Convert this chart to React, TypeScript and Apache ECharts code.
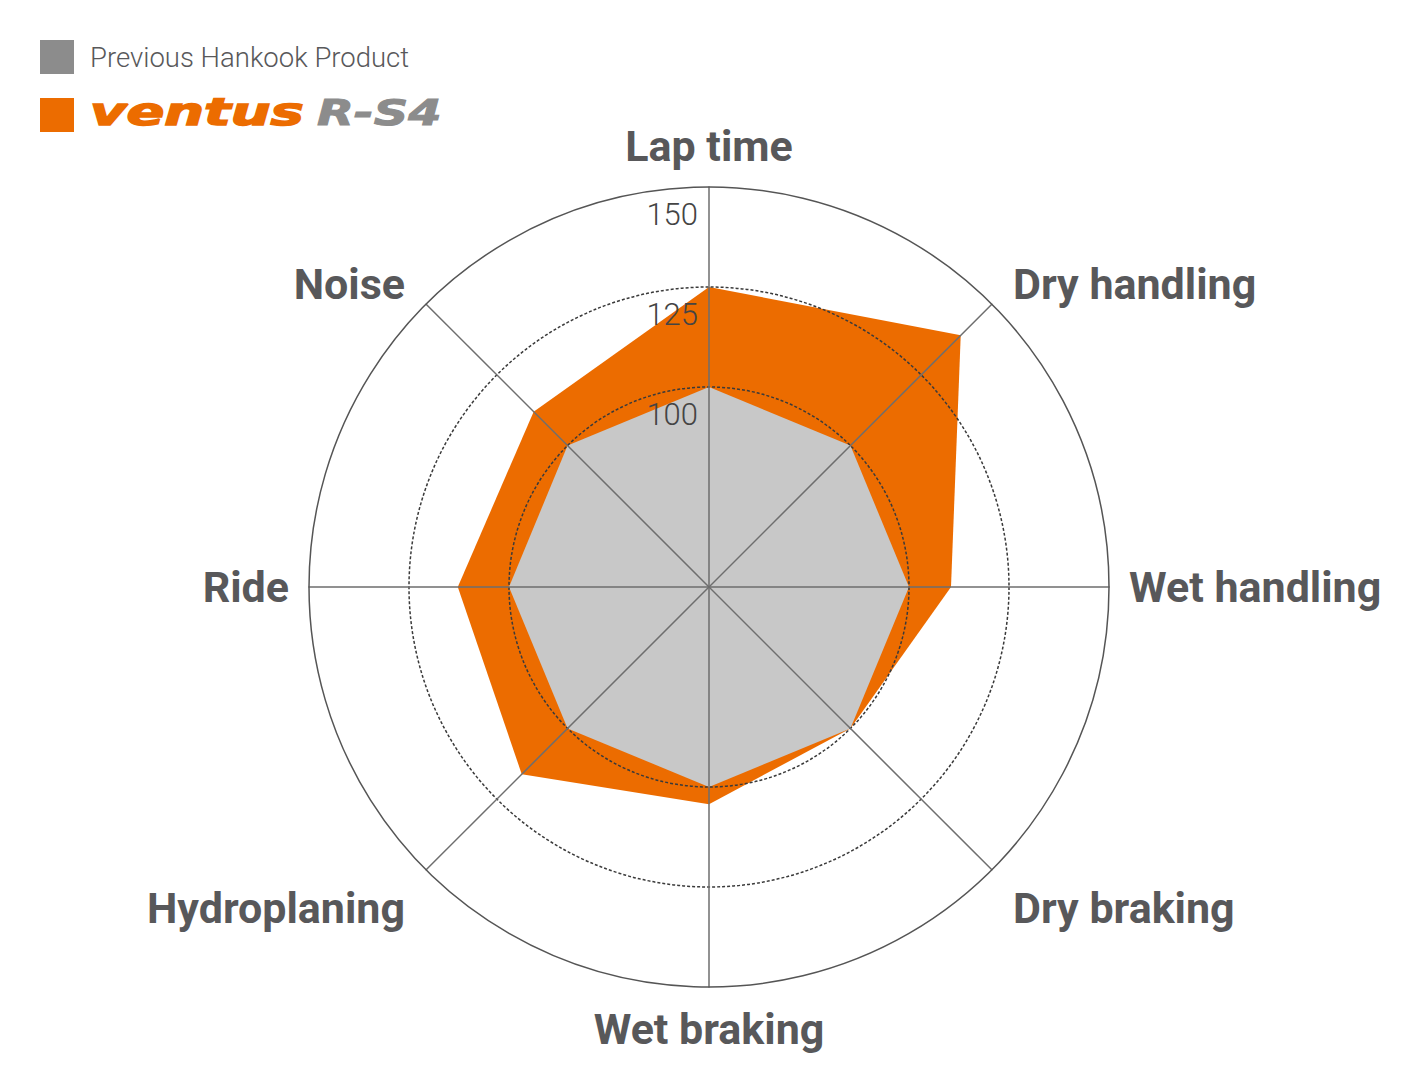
import React, { useEffect, useRef } from 'react';
import * as echarts from 'echarts';

// categories in clockwise order, starting at the top
const categories = ['Lap time', 'Dry handling', 'Wet handling', 'Dry braking', 'Wet braking', 'Hydroplaning', 'Ride', 'Noise'];
const previousProduct = [100, 100, 100, 100, 100, 100, 100, 100];
const ventusRS4 = [125, 139, 110.5, 100, 104.3, 116.2, 112.8, 112];
const tickLabels = [100, 125, 150];

const ORANGE = '#ec6c00';
const GRAY_FILL = '#c8c8c8';
const GRAY_KEY = '#8c8c8c';
const TEXT = '#58585a';

// nudges for the names that sit on the diagonals
const namePadding: Record<string, number[]> = {
  'Lap time': [0, 0, 0, 0],
  'Dry handling': [0, 0, 12, 7],
  'Wet handling': [0, 0, 0, 0],
  'Dry braking': [48, 0, 0, 7],
  'Wet braking': [0, 0, 0, 0],
  Hydroplaning: [48, 7, 0, 0],
  Ride: [0, 0, 0, 0],
  Noise: [0, 7, 12, 0],
};

const App: React.FC = () => {
  const chartRef = useRef<HTMLDivElement>(null);

  useEffect(() => {
    document.body.style.margin = '0';
    if (!chartRef.current) return;
    const chart = echarts.init(chartRef.current, null, { renderer: 'svg' });

    // echarts lays radar indicators out counter-clockwise
    const order = [0, ...categories.map((_, i) => i).slice(1).reverse()];
    const pick = (arr: number[]) => order.map((i) => arr[i]);

    const nameFont = { color: TEXT, fontFamily: 'Roboto', fontWeight: 'bold' as const, fontSize: 43 };
    const rich: Record<string, any> = {};
    categories.forEach((c, i) => {
      rich['n' + i] = { ...nameFont, padding: namePadding[c] };
    });

    const center = [709, 587];
    const radius = 400;

    const option = {
      animation: false,
      backgroundColor: '#fff',
      radar: {
        z: 3,
        center,
        radius,
        startAngle: 90,
        shape: 'circle',
        splitNumber: 4,
        indicator: order.map((i) => ({ name: categories[i], min: 50, max: 150 })),
        axisName: {
          ...nameFont,
          formatter: (name: string) => `{n${categories.indexOf(name)}|${name}}`,
          rich,
        },
        nameGap: 20,
        axisLine: { lineStyle: { color: '#6e6e6e', width: 1.5 } },
        splitLine: {
          lineStyle: {
            color: ['transparent', 'transparent', '#3a3a3a', '#3a3a3a', 'transparent'],
            type: [3, 2],
            width: 1.5,
          },
        },
        splitArea: { show: false },
        axisTick: { show: false },
        axisLabel: { show: false },
      },
      polar: { center, radius },
      angleAxis: {
        z: 4,
        type: 'value',
        min: 0,
        max: 360,
        axisLine: { show: true, lineStyle: { color: '#555', width: 1.5 } },
        axisTick: { show: false },
        axisLabel: { show: false },
        splitLine: { show: false },
      },
      radiusAxis: {
        z: 4,
        type: 'value',
        min: 50,
        max: 150,
        interval: 25,
        axisLine: { show: false },
        axisTick: { show: false },
        splitLine: { show: false },
        axisLabel: {
          margin: 11,
          fontSize: 31,
          fontFamily: 'Roboto',
          fontWeight: 300,
          color: '#444',
          verticalAlign: 'top',
          padding: [12, 0, 0, 0],
          formatter: (v: number) => (tickLabels.includes(v) ? String(v) : ''),
        },
      },
      series: [
        {
          type: 'radar',
          symbol: 'none',
          lineStyle: { width: 0 },
          data: [
            { name: 'ventus R-S4', value: pick(ventusRS4), areaStyle: { color: ORANGE, opacity: 1 } },
            { name: 'Previous Hankook Product', value: pick(previousProduct), areaStyle: { color: GRAY_FILL, opacity: 1 } },
          ],
        },
      ],
      graphic: [
        { type: 'rect', left: 40, top: 40, shape: { width: 34, height: 34 }, style: { fill: GRAY_KEY } },
        {
          type: 'text',
          x: 90,
          y: 57,
          style: { text: 'Previous Hankook Product', fill: TEXT, font: '300 27.5px Roboto', verticalAlign: 'middle', align: 'left' },
        },
        { type: 'rect', left: 40, top: 98, shape: { width: 34, height: 34 }, style: { fill: ORANGE } },
        {
          type: 'text',
          x: 90,
          y: 112,
          scaleX: 1.47,
          style: {
            text: 'ventus',
            fill: ORANGE,
            stroke: ORANGE,
            lineWidth: 1.5,
            font: 'italic bold 38px "DejaVu Sans"',
            verticalAlign: 'middle',
            align: 'left',
          },
        },
        {
          type: 'text',
          x: 317,
          y: 113,
          scaleX: 1.33,
          style: {
            text: 'R-S4',
            fill: GRAY_KEY,
            stroke: GRAY_KEY,
            lineWidth: 1,
            font: 'italic bold 36px "DejaVu Sans"',
            verticalAlign: 'middle',
            align: 'left',
          },
        },
      ],
    };

    chart.setOption(option);
    return () => {
      chart.dispose();
    };
  }, []);

  return <div ref={chartRef} style={{ width: 1416, height: 1072 }} />;
};

export default App;
